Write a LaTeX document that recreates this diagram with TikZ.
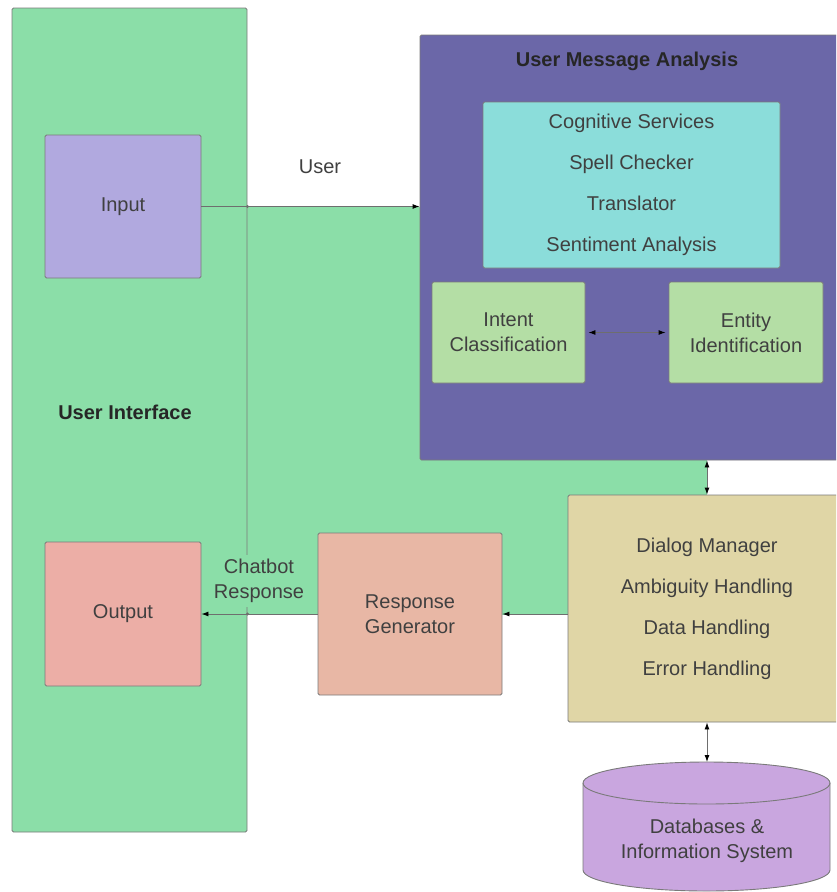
\documentclass[tikz,border=0pt]{standalone}
\usepackage{fontspec}
\setmainfont{Liberation Sans}
\usepackage{xcolor}
\usepackage{tikz}
\usetikzlibrary{arrows.meta}

\definecolor{uigreen}{HTML}{8BDEA8}
\definecolor{inlav}{HTML}{B1A9DF}
\definecolor{outpink}{HTML}{ECAEA6}
\definecolor{umapurple}{HTML}{6B67A8}
\definecolor{cogcyan}{HTML}{8BDDDA}
\definecolor{nlugreen}{HTML}{B4DEA5}
\definecolor{dmtan}{HTML}{E0D6A6}
\definecolor{rgsalmon}{HTML}{E8B7A5}
\definecolor{dbviolet}{HTML}{C9A6DF}
\definecolor{bordergray}{HTML}{7A7A7A}
\definecolor{linegray}{HTML}{6E6E6E}
\definecolor{textgray}{HTML}{404040}
\definecolor{titledark}{HTML}{262626}

\begin{document}
\begin{tikzpicture}[x=1pt,y=-1pt,
    font=\fontsize{20}{25}\selectfont,
    txt/.style={text=textgray, align=center},
    ttl/.style={text=titledark, font=\fontsize{20}{25}\selectfont\bfseries},
    blk/.style={draw=bordergray, line width=0.9pt, rounded corners=1.5pt, txt, inner sep=0pt},
    lst/.style={font=\fontsize{20}{41}\selectfont},
    arr/.style={draw=linegray, line width=0.9pt, -{Latex[length=7pt,width=5pt,color=black]}},
    darr/.style={draw=linegray, line width=0.9pt, {Latex[length=7pt,width=5pt,color=black]}-{Latex[length=7pt,width=5pt,color=black]}}]
    \clip (0,0) rectangle (836,892);
    \fill[uigreen] (247,207) rectangle (707,615);

    \node[blk, fill=uigreen, minimum width=235pt, minimum height=824pt] (ui) at (129.5,420) {};
    \node[ttl] (uilabel) at (125,412) {User Interface};
    \node[blk, fill=inlav, minimum width=156pt, minimum height=143pt] (input) at (123,206.5) {Input};
    \node[blk, fill=outpink, minimum width=156pt, minimum height=144pt] (output) at (123,614) {Output};

    \node[blk, fill=umapurple, minimum width=418pt, minimum height=425pt] (uma) at (629,247.5) {};
    \node[ttl] (umatitle) at (627,61) {User Message Analysis};
    \node[blk, lst, fill=cogcyan, minimum width=297pt, minimum height=166pt] (cog) at (631.5,185)
        {Cognitive Services\\Spell Checker\\Translator\\Sentiment Analysis};
    \node[blk, fill=nlugreen, minimum width=153pt, minimum height=101pt] (intent) at (508.5,332.5) {Intent\\Classification};
    \node[blk, fill=nlugreen, minimum width=154pt, minimum height=101pt] (entity) at (746,332.5) {Entity\\Identification};

    \node[blk, lst, fill=dmtan, minimum width=278pt, minimum height=227pt] (dm) at (707,608.5)
        {Dialog Manager\\Ambiguity Handling\\Data Handling\\Error Handling};
    \node[blk, fill=rgsalmon, minimum width=184pt, minimum height=162pt] (rg) at (410,614) {Response\\Generator};

    \filldraw[fill=dbviolet, draw=bordergray, line width=0.9pt] (583,783) -- (583,870)
        arc[start angle=180, end angle=360, x radius=123.5pt, y radius=21pt] -- (830,783)
        arc[start angle=0, end angle=180, x radius=123.5pt, y radius=21pt] -- cycle;
    \draw[bordergray, line width=0.9pt] (583,783) arc[start angle=180, end angle=360, x radius=123.5pt, y radius=21pt];
    \node[txt] (db) at (707,840.5) {Databases \&\\Information System};
    \coordinate (dbtop) at (707,762);

    \node[txt] (userlbl) at (320,167) {User};
    \draw[arr] (input.east) -- (input.east -| uma.west);
    \fill[linegray] (input.east -| ui.east) circle (1.6pt);
    \draw[darr, shorten <=3pt, shorten >=3pt] (intent.east) -- (entity.west);
    \draw[darr] (uma.south -| dm.north) -- (dm.north);
    \draw[arr] (dm.west |- rg.east) -- (rg.east);
    \draw[arr] (rg.west) -- (output.east);
    \fill[linegray] (rg.west -| ui.east) circle (1.6pt);
    \node[txt, fill=uigreen, inner sep=4pt] (chatlbl) at (259,581) {Chatbot\\Response};
    \draw[darr] (dm.south) -- (dbtop);
\end{tikzpicture}
\end{document}
